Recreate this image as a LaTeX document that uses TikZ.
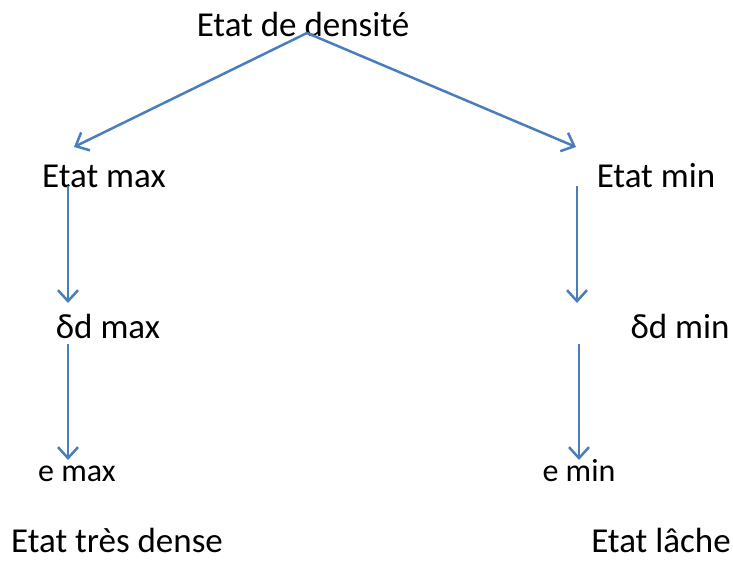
\documentclass[tikz,border=0pt]{standalone}
\usepackage{fontspec}
\setmainfont{Carlito}
\usetikzlibrary{arrows.meta}
\definecolor{arrowblue}{HTML}{4A7EBB}
\tikzset{
  lbl/.style={inner sep=0pt, anchor=base, font=\fontsize{35}{40}\selectfont},
  slbl/.style={inner sep=0pt, anchor=base, font=\fontsize{32}{36}\selectfont},
  conn/.style={draw=arrowblue, line width=2.5pt, -{Straight Barb[length=11pt,width=20pt,line width=2.5pt]}}
}
\begin{document}
\begin{tikzpicture}[x=1pt,y=-1pt]
\useasboundingbox (0,0) rectangle (733,561);
\node[lbl] (top) at (303,37) {Etat de densité};
\node[lbl] (lmax) at (104,188) {Etat max};
\node[lbl] (lmin) at (656,188) {Etat min};
\node[lbl] (dmax) at (108,338) {δd max};
\node[lbl] (dmin) at (680,338) {δd min};
\node[slbl] (emax) at (77,481) {e max};
\node[slbl] (emin) at (579,481) {e min};
\node[lbl] (dense) at (117,552) {Etat très dense};
\node[lbl] (lache) at (661,552) {Etat lâche};
\coordinate (apex) at (307,33);
\coordinate (tl) at (74,147);
\coordinate (tr) at (576,147);
\coordinate (l1s) at (68,186);
\coordinate (l1e) at (68,303);
\coordinate (l2s) at (68,344);
\coordinate (l2e) at (68,460);
\coordinate (r1s) at (577,186);
\coordinate (r1e) at (577,303);
\coordinate (r2s) at (579,344);
\coordinate (r2e) at (579,460);
\draw[conn] (apex) -- (tl);
\draw[conn] (apex) -- (tr);
\draw[conn] (l1s) -- (l1e);
\draw[conn] (l2s) -- (l2e);
\draw[conn] (r1s) -- (r1e);
\draw[conn] (r2s) -- (r2e);
\end{tikzpicture}
\end{document}
